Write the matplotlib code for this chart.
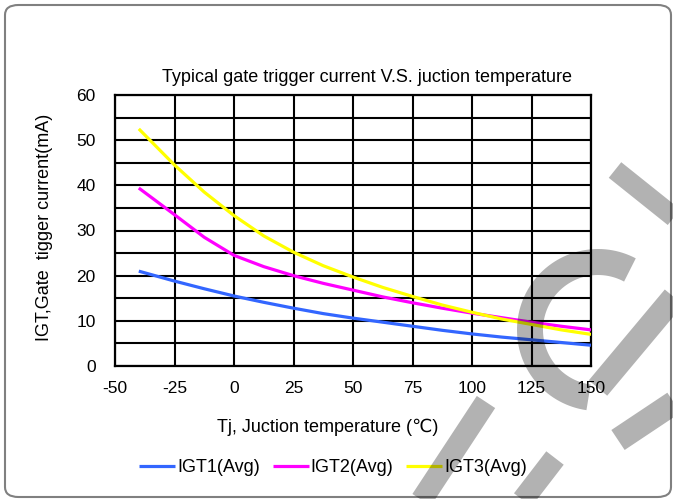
import numpy as np
import matplotlib
matplotlib.use("Agg")
import matplotlib.pyplot as plt
from matplotlib.patches import FancyBboxPatch
from matplotlib.lines import Line2D

# ---- data ----
temps = [-40, -25, -12.5, 0, 12.5, 25, 37.5, 50, 62.5, 75, 87.5, 100, 112.5, 125, 137.5, 150]
igt1 = [21.0, 18.8, 17.1, 15.5, 14.1, 12.8, 11.6, 10.6, 9.7, 8.8, 7.9, 7.1, 6.4, 5.8, 5.2, 4.6]
igt2 = [39.4, 33.5, 28.5, 24.5, 22.0, 20.0, 18.3, 16.8, 15.3, 14.0, 12.8, 11.7, 10.7, 9.7, 8.8, 8.0]
igt3 = [52.5, 44.5, 38.5, 33.3, 28.8, 25.2, 22.2, 19.7, 17.4, 15.4, 13.5, 11.9, 10.4, 9.2, 8.0, 7.0]
series_names = ["IGT1(Avg)", "IGT2(Avg)", "IGT3(Avg)"]
series_colors = ["#3366ff", "#ff00ff", "#ffff00"]
x_ticks = [-50, -25, 0, 25, 50, 75, 100, 125, 150]
y_ticks = [0, 10, 20, 30, 40, 50, 60]

W, H = 673, 499
plt.rcParams['font.family'] = ['Liberation Sans', 'DejaVu Sans']
plt.rcParams['axes.unicode_minus'] = False
fig = plt.figure(figsize=(W / 100, H / 100), dpi=100)

def fx(x):
    return x / W

def fy(y):
    return 1 - y / H

ax = fig.add_axes([fx(115), fy(366), fx(591) - fx(115), fy(95) - fy(366)])
for vals, name, col in zip([igt1, igt2, igt3], series_names, series_colors):
    ax.plot(temps, vals, color=col, lw=2.3, label=name, zorder=3,
            solid_capstyle='butt')

ax.set_xlim(-50, 150)
ax.set_ylim(0, 60)
ax.set_xticks(x_ticks)
ax.set_yticks(y_ticks)
ax.set_yticks(np.arange(0, 61, 5), minor=True)
ax.grid(True, which='major', color='black', lw=1.5)
ax.grid(True, which='minor', axis='y', color='black', lw=1.5)
ax.tick_params(which='both', length=0)
ax.tick_params(axis='x', pad=11, labelsize=12.5)
ax.tick_params(axis='y', pad=14, labelsize=12.5)
for s in ax.spines.values():
    s.set_linewidth(1.6)
    s.set_color('black')

fig.text(fx(367), fy(77), "Typical gate trigger current V.S. juction temperature",
         ha='center', va='center', fontsize=13)
fig.text(fx(328), fy(427), "Tj, Juction temperature (\u2103)",
         ha='center', va='center', fontsize=13)
fig.text(fx(45), fy(227), "IGT,Gate  tigger current(mA)", rotation=90,
         ha='center', va='center', fontsize=13)

handles, labels = ax.get_legend_handles_labels()
fig.legend(handles, labels, loc='center', bbox_to_anchor=(fx(333), fy(468)),
           ncol=3, frameon=False, fontsize=13, handlelength=2.0,
           handletextpad=0.1, columnspacing=0.7)

# outer rounded border
border = FancyBboxPatch((fx(5), fy(497)), fx(671) - fx(5), fy(5) - fy(497),
                        boxstyle="round,pad=0,rounding_size=0.02",
                        transform=fig.transFigure, fill=False,
                        edgecolor='#808080', lw=1.5, zorder=0)
fig.add_artist(border)

# watermark (semi-transparent gray strokes)
wm = dict(color='black', alpha=0.3, solid_capstyle='butt', zorder=20)
def band(p0, p1, thick):
    fig.add_artist(Line2D([fx(p0[0]), fx(p1[0])], [fy(p0[1]), fy(p1[1])],
                          transform=fig.transFigure, lw=thick * 0.72, **wm))

band((615, 170), (690, 230), 20)
band((680, 290), (598, 388), 24)
band((618, 440), (690, 392), 24)
band((486, 402), (415, 510), 22)
band((555, 458), (515, 510), 22)
ang = np.radians(np.linspace(62, 262, 80))
cx, cy, r = 598, 330, 68
fig.add_artist(Line2D(fx(cx + r * np.cos(ang)), fy(cy - r * np.sin(ang)),
                      transform=fig.transFigure, lw=26 * 0.72, **wm))

fig.savefig("out.png", dpi=100)
